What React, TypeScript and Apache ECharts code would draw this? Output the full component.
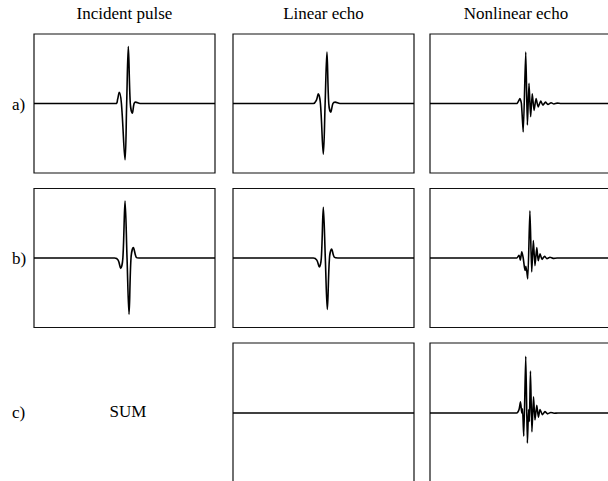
import React, { useEffect, useRef } from "react";
import * as echarts from "echarts";

// Column titles and row labels
const columnTitles = ["Incident pulse", "Linear echo", "Nonlinear echo"];
const rowLabels = ["a)", "b)", "c)"];
const sumLabel = "SUM";

// Waveforms: [time (0-100 % of panel), normalised amplitude (-1..1)]
const incidentA: number[][] = [
  [0, 0], [45.3, 0], [46.2, 0.06], [47.1, 0.16], [48.3, 0], [50.3, -0.81], [51.2, 0],
  [52.1, 0.82], [53.2, 0], [54.3, -0.14], [55.3, 0], [56.1, 0.02], [58.6, 0], [100, 0],
];
const linearA: number[][] = [
  [0, 0], [44.4, 0], [46.1, 0.05], [47.1, 0.14], [48.3, 0], [49.9, -0.73], [50.9, 0],
  [51.9, 0.74], [52.9, 0], [54.0, -0.125], [55.2, 0], [56.4, 0.02], [59.1, 0], [100, 0],
];
const nonlinearA: number[][] = [
  [0, 0], [47.9, 0], [49.7, 0.07], [50.5, 0], [51.5, -0.41], [52.9, 0.74], [53.8, -0.31],
  [54.7, 0.29], [55.6, -0.19], [56.5, 0.14], [57.5, -0.1], [58.6, 0.07], [59.8, -0.05],
  [61.2, 0.035], [62.4, -0.025], [63.8, 0.02], [65.2, -0.015], [66.9, 0.01], [68.5, -0.008],
  [70.2, 0.005], [72.4, 0], [100, 0],
];
const incidentB: number[][] = [
  [0, 0], [44.5, 0], [46.5, -0.03], [47.9, -0.15], [49.1, 0], [50.3, 0.82], [51.4, 0],
  [52.5, -0.81], [53.6, 0], [54.9, 0.15], [56.5, 0.01], [58, 0], [100, 0],
];
const linearB: number[][] = [
  [0, 0], [44.4, 0], [46.3, -0.03], [47.7, -0.13], [48.8, 0], [49.9, 0.73], [51.0, 0],
  [52.1, -0.74], [53.3, 0], [54.5, 0.13], [56.0, 0.01], [58.0, 0], [100, 0],
];
const nonlinearB: number[][] = [
  [0, 0], [47.9, 0], [49.2, 0.04], [49.9, -0.03], [50.7, 0.09], [51.5, 0], [52.5, -0.18],
  [53.0, -0.12], [54.0, -0.3], [55.2, 0.68], [56.2, -0.2], [57.1, 0.25], [58.0, -0.11],
  [59.0, 0.15], [59.8, -0.04], [60.8, 0.06], [61.9, -0.02], [63.3, 0.025], [64.6, -0.01],
  [66.3, 0.01], [68.0, -0.005], [70.2, 0], [100, 0],
];
const linearC: number[][] = [[0, 0], [100, 0]];
const nonlinearC: number[][] = [
  [0, 0], [47.9, 0], [49.2, 0.05], [50.0, 0.16], [50.7, 0.0], [51.1, 0.06], [51.8, -0.33],
  [52.9, 0.81], [53.8, -0.43], [54.5, 0.05], [54.9, -0.12], [55.5, 0.6], [56.3, -0.27],
  [57.2, 0.23], [58.0, -0.1], [59.0, 0.11], [59.9, -0.06], [60.8, 0.05], [62.1, -0.025],
  [63.5, 0.02], [65.0, -0.012], [66.7, 0.008], [68.5, -0.004], [70.7, 0], [100, 0],
];

const FONT = "'Liberation Serif', 'Times New Roman', serif";

export default function App() {
  const ref = useRef<HTMLDivElement>(null);

  useEffect(() => {
    if (!ref.current) return;
    const chart = echarts.init(ref.current, null, { renderer: "svg" });

    const colLeft = [34, 233, 430];
    const rowTop = [34, 188.5, 343];
    const rowH = [139, 139, 140];
    const panelW = 181;

    const panels = [
      { r: 0, c: 0, data: incidentA, smooth: 0.35 },
      { r: 0, c: 1, data: linearA, smooth: 0.35 },
      { r: 0, c: 2, data: nonlinearA, smooth: 0.2 },
      { r: 1, c: 0, data: incidentB, smooth: 0.35 },
      { r: 1, c: 1, data: linearB, smooth: 0.35 },
      { r: 1, c: 2, data: nonlinearB, smooth: 0.2 },
      { r: 2, c: 1, data: linearC, smooth: 0 },
      { r: 2, c: 2, data: nonlinearC, smooth: 0.2 },
    ];

    const graphic: any[] = [];
    columnTitles.forEach((t, i) => {
      graphic.push({
        type: "text",
        x: [124.5, 323.5, 516][i],
        y: 13,
        style: { text: t, font: `17px ${FONT}`, fill: "#000", align: "center", verticalAlign: "middle" },
      });
    });
    rowLabels.forEach((t, i) => {
      graphic.push({
        type: "text",
        x: 12,
        y: [104, 258, 412][i],
        style: { text: t, font: `17px ${FONT}`, fill: "#000", align: "left", verticalAlign: "middle" },
      });
    });
    graphic.push({
      type: "text",
      x: 128,
      y: 411,
      style: { text: sumLabel, font: `17px ${FONT}`, fill: "#000", align: "center", verticalAlign: "middle" },
    });

    chart.setOption({
      animation: false,
      backgroundColor: "#fff",
      grid: panels.map((p) => ({
        left: colLeft[p.c],
        top: rowTop[p.r],
        width: panelW,
        height: rowH[p.r],
        show: true,
        borderColor: "#111",
        borderWidth: 1.2,
        containLabel: false,
        outerBoundsMode: "none",
      })),
      xAxis: panels.map((_, i) => ({ type: "value", gridIndex: i, min: 0, max: 100, show: false })),
      yAxis: panels.map((_, i) => ({ type: "value", gridIndex: i, min: -1, max: 1, show: false })),
      series: panels.map((p, i) => ({
        type: "line",
        xAxisIndex: i,
        yAxisIndex: i,
        data: p.data,
        showSymbol: false,
        smooth: p.smooth,
        silent: true,
        clip: false,
        lineStyle: { color: "#000", width: 1.6 },
      })),
      graphic,
    });

    return () => chart.dispose();
  }, []);

  return (
    <div
      ref={ref}
      style={{ position: "fixed", left: 0, top: 0, width: 608, height: 481, background: "#fff" }}
    />
  );
}
